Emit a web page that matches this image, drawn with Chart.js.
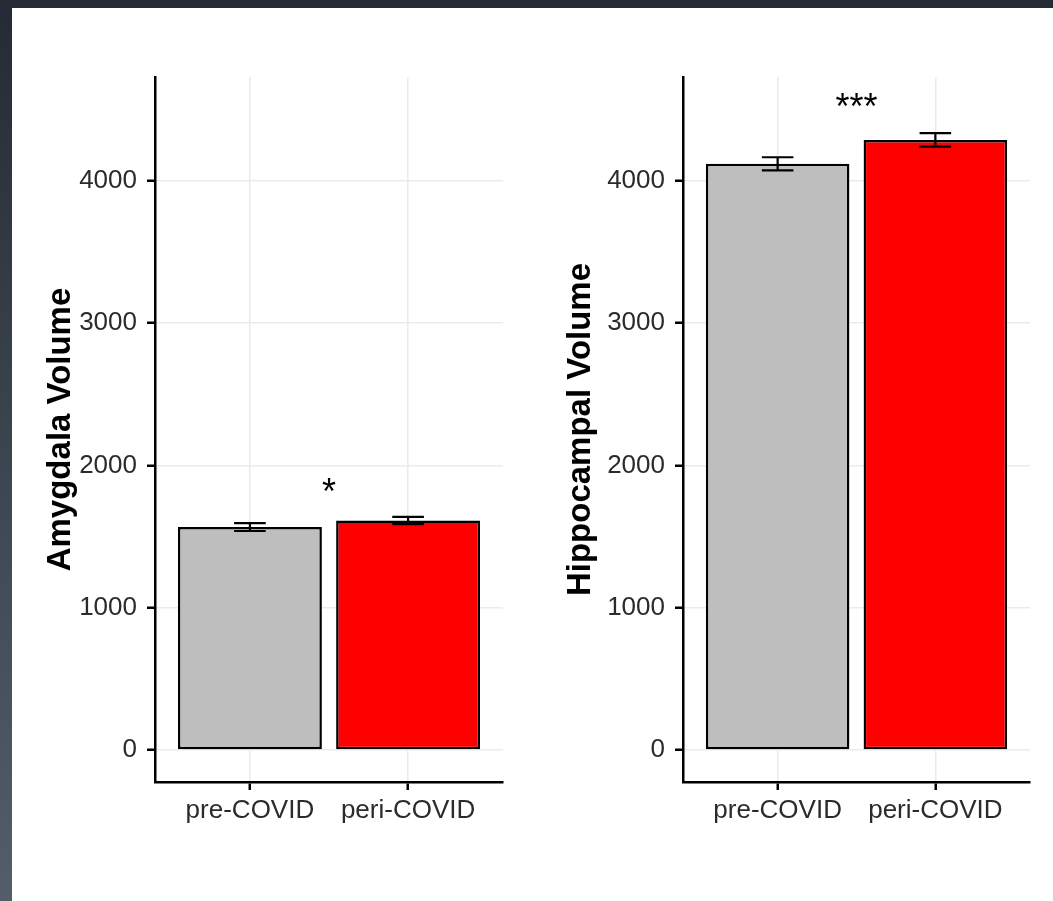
<!DOCTYPE html>
<html><head><meta charset="utf-8">
<script src="https://cdn.jsdelivr.net/npm/chart.js@4"></script>
<style>
html,body{margin:0;padding:0;width:1053px;height:901px;overflow:hidden;background:linear-gradient(to bottom,#252b34,#535e6a);}
#panel{position:absolute;left:12px;top:8px;width:1041px;height:893px;background:#fff;}
#c1{position:absolute;left:0;top:0;}
#c2{position:absolute;left:518px;top:0;}
</style></head>
<body>
<div id="panel">
<canvas id="c1" width="518" height="893"></canvas>
<canvas id="c2" width="523" height="893"></canvas>
</div>
<script>
// ---- data ----
const categories = ['pre-COVID', 'peri-COVID'];
const barColors = ['#bebebe', '#ff0000'];
const amygdalaMeans = [1567, 1613];
const amygdalaSE = [28, 26];
const hippocampalMeans = [4120, 4288];
const hippocampalSE = [46, 48];
const yTicks = [0, 1000, 2000, 3000, 4000];
const yMin = -225, yMax = 4730;
const amygdalaSig = '*';
const amygdalaSigY = 1800;
const hippocampalSig = '***';
const hippocampalSigY = 4505;

const FONT = '"Liberation Sans", Arial, Helvetica, sans-serif';
Chart.defaults.font.family = FONT;

const errBarPlugin = {
  id: 'errbars',
  afterDatasetsDraw(chart, args, opts) {
    const {ctx} = chart;
    const x = chart.scales.x, y = chart.scales.y;
    ctx.save();
    ctx.strokeStyle = '#000';
    ctx.lineWidth = 2.2;
    opts.means.forEach((m, i) => {
      const px = x.getPixelForValue(i + 1);
      const hw = x.getPixelForValue(i + 1 + 0.1) - px;
      const yt = y.getPixelForValue(m + opts.errs[i]);
      const yb = y.getPixelForValue(m - opts.errs[i]);
      ctx.beginPath();
      ctx.moveTo(px, yt); ctx.lineTo(px, yb);
      ctx.moveTo(px - hw, yt); ctx.lineTo(px + hw, yt);
      ctx.moveTo(px - hw, yb); ctx.lineTo(px + hw, yb);
      ctx.stroke();
    });
    ctx.fillStyle = '#000';
    ctx.font = '36px ' + FONT;
    ctx.textAlign = 'center';
    ctx.textBaseline = 'middle';
    ctx.fillText(opts.sig, x.getPixelForValue(1.5), y.getPixelForValue(opts.sigY));
    ctx.restore();
  }
};

function makeChart(id, title, means, errs, sig, sigY, axisWidth, titlePad, padRight) {
  return new Chart(document.getElementById(id), {
    type: 'bar',
    data: {
      datasets: [{
        data: means.map((v, i) => ({x: i + 1, y: v})),
        backgroundColor: barColors,
        borderColor: '#000',
        borderWidth: 2.5,
        borderSkipped: false,
        barPercentage: 0.91,
        categoryPercentage: 1
      }]
    },
    options: {
      responsive: false,
      animation: false,
      devicePixelRatio: 1,
      layout: {padding: {top: 69, right: padRight, left: 0, bottom: 0}},
      plugins: {
        legend: {display: false},
        tooltip: {enabled: false},
        errbars: {means: means, errs: errs, sig: sig, sigY: sigY}
      },
      scales: {
        x: {
          type: 'linear',
          offset: false,
          min: 0.4, max: 2.6,
          afterBuildTicks: (s) => { s.ticks = categories.map((c, i) => ({value: i + 1})); },
          afterFit: (s) => { s.height = 119; },
          ticks: {
            callback: (v) => categories[Math.round(v) - 1],
            font: {size: 26},
            color: '#2b2b2b',
            padding: 5,
            maxRotation: 0,
            autoSkip: false
          },
          grid: {offset: false, color: '#ebebeb', lineWidth: 1.5, tickColor: '#000', tickWidth: 2.5, tickLength: 8},
          border: {color: '#000', width: 2.5}
        },
        y: {
          type: 'linear',
          min: yMin, max: yMax,
          afterBuildTicks: (s) => { s.ticks = yTicks.map(v => ({value: v})); },
          afterFit: (s) => { s.width = axisWidth; },
          ticks: {font: {size: 26}, color: '#2b2b2b', padding: 10, callback: (v) => String(v)},
          grid: {color: '#ebebeb', lineWidth: 1.5, tickColor: '#000', tickWidth: 2.5, tickLength: 8},
          border: {color: '#000', width: 2.5},
          title: {display: true, text: title, color: '#000', font: {size: 33, weight: 'bold'}, padding: {top: titlePad, bottom: 0}}
        }
      }
    },
    plugins: [errBarPlugin]
  });
}

makeChart('c1', 'Amygdala Volume', amygdalaMeans, amygdalaSE, amygdalaSig, amygdalaSigY, 143, 29, 27);
makeChart('c2', 'Hippocampal Volume', hippocampalMeans, hippocampalSE, hippocampalSig, hippocampalSigY, 153, 31, 23);
</script>
</body></html>
